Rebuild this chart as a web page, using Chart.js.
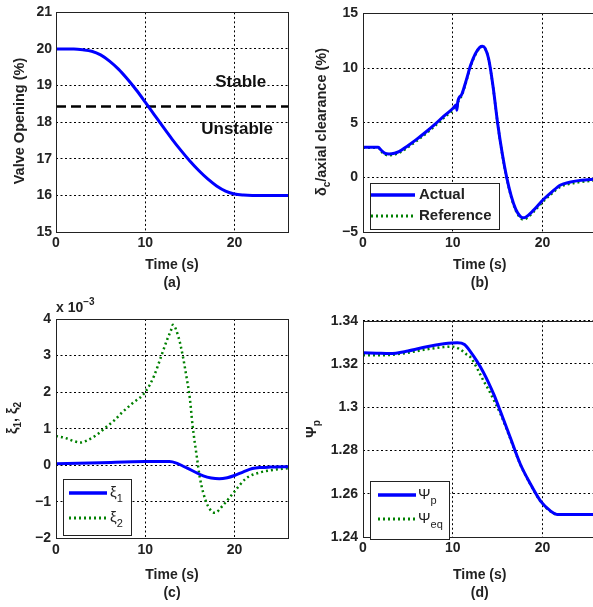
<!DOCTYPE html>
<html>
<head>
<meta charset="utf-8">
<script src="https://cdn.jsdelivr.net/npm/chart.js@4.4.1/dist/chart.umd.min.js"></script>
<style>
  html, body { margin: 0; padding: 0; background: #fff; overflow: hidden; width: 593px; height: 607px; }
  canvas { position: absolute; }
</style>
</head>
<body>
<canvas id="chart-a" width="300" height="292" style="left:0px;top:0px"></canvas>
<canvas id="chart-b" width="300" height="292" style="left:300px;top:0px"></canvas>
<canvas id="chart-c" width="300" height="317" style="left:0px;top:290px"></canvas>
<canvas id="chart-d" width="300" height="317" style="left:300px;top:290px"></canvas>
<script>
// (a) valve opening
const timeA = [0, 1, 2, 3, 4, 5, 6, 7, 8, 9, 10, 11, 12, 13, 14, 15, 16, 17, 18, 19, 20, 21, 22, 23, 24, 25, 26];
const valveOpening = [20, 20, 20, 19.98, 19.94, 19.84, 19.67, 19.45, 19.18, 18.88, 18.55, 18.21, 17.87, 17.54, 17.23, 16.94, 16.68, 16.45, 16.26, 16.12, 16.04, 16.01, 16, 16, 16, 16, 16];
const stabilityLimit = 18.43;
const ticksYA = [15, 16, 17, 18, 19, 20, 21];

// (b) clearance
const timeB = [0, 1.7, 2.0, 2.4, 2.9, 3.5, 4, 5, 6, 7, 8, 9, 10, 10.4, 10.45, 10.55, 11, 11.5, 12, 12.5, 13, 13.3, 13.6, 14, 14.5, 15, 15.5, 16, 16.5, 17, 17.5, 17.8, 18.2, 19, 20, 21, 22, 23, 24, 25, 26];
const clearanceActual = [2.75, 2.75, 2.5, 2.22, 2.14, 2.2, 2.35, 2.9, 3.5, 4.15, 4.85, 5.6, 6.3, 6.65, 6.15, 6.9, 7.6, 8.9, 10.3, 11.3, 11.9, 12.0, 11.8, 10.8, 8.2, 4.9, 2.2, 0.0, -1.7, -2.9, -3.55, -3.7, -3.6, -3.0, -2.1, -1.35, -0.7, -0.45, -0.3, -0.22, -0.15];
const clearanceRef = [2.7, 2.7, 2.4, 2.1, 2.02, 2.08, 2.22, 2.75, 3.35, 4.0, 4.7, 5.45, 6.15, 6.5, 6.4, 6.8, 7.5, 8.8, 10.2, 11.2, 11.85, 11.95, 11.75, 10.75, 8.15, 4.85, 2.15, -0.05, -1.8, -3.0, -3.7, -3.85, -3.75, -3.15, -2.25, -1.5, -0.85, -0.6, -0.45, -0.35, -0.3];
const ticksYB = [-5, 0, 5, 10, 15];

// (c) xi1, xi2 (x 10^-3)
const timeXi1 = [0, 5, 10, 12.7, 13.5, 14.2, 15.3, 16.5, 17.4, 18.3, 19.2, 20, 21, 22, 23, 24, 26];
const xi1 = [0.04, 0.07, 0.1, 0.1, 0.06, -0.02, -0.15, -0.29, -0.35, -0.37, -0.34, -0.28, -0.18, -0.09, -0.06, -0.05, -0.04];
const timeXi2 = [0, 1, 2, 2.7, 3.5, 4.5, 5.5, 6.5, 7.35, 8.5, 10, 11, 11.8, 12.4, 12.9, 13.1, 13.7, 14.2, 14.6, 15.0, 15.3, 15.8, 16.1, 16.5, 17.0, 17.8, 18.7, 20, 21.3, 22.8, 24, 26];
const xi2 = [0.8, 0.75, 0.66, 0.62, 0.68, 0.82, 1.02, 1.22, 1.43, 1.68, 2.0, 2.45, 2.99, 3.4, 3.7, 3.84, 3.53, 3.0, 2.45, 1.83, 1.1, 0.2, -0.31, -0.75, -1.1, -1.3, -1.1, -0.72, -0.36, -0.2, -0.14, -0.08];
const ticksYC = [-2, -1, 0, 1, 2, 3, 4];

// (d) psi
const timePsiP = [0, 1.5, 3, 5, 7.1, 9, 10.5, 11.3, 12, 12.7, 13.4, 14, 14.6, 15.3, 16.4, 17.5, 18.6, 19.8, 20.9, 21.6, 23, 26];
const psiP = [1.3252, 1.3250, 1.3248, 1.3260, 1.3280, 1.3293, 1.3298, 1.3290, 1.3255, 1.3212, 1.3162, 1.3112, 1.3056, 1.2981, 1.2860, 1.2739, 1.2649, 1.2565, 1.2520, 1.2505, 1.2505, 1.2505];
const timePsiEq = [0, 1.5, 3, 5, 7.1, 9, 9.9, 10.8, 11.5, 12, 12.7, 13.4, 14, 14.6, 15.3, 16.4, 17.5, 18.6, 19.8, 20.9, 21.6, 23, 26];
const psiEq = [1.3240, 1.3240, 1.3242, 1.3252, 1.3268, 1.3278, 1.3280, 1.3268, 1.3245, 1.3230, 1.3180, 1.3124, 1.3080, 1.3030, 1.2970, 1.2855, 1.2737, 1.2647, 1.2563, 1.2518, 1.2505, 1.2505, 1.2505];
const ticksYD = [1.24, 1.26, 1.28, 1.3, 1.32, 1.34];

const ticksX = [0, 10, 20];

const FONT = "'Liberation Sans', Arial, Helvetica, sans-serif";
const BLUE = '#0000ff';
const GREEN = '#008000';

function pairs(xs, ys) {
    return xs.map((x, i) => ({ x: x, y: ys[i] }));
}

function solid(xs, ys) {
    return { data: pairs(xs, ys), borderColor: BLUE, borderWidth: 3, fill: false };
}

function dotted(xs, ys) {
    return { data: pairs(xs, ys), borderColor: GREEN, borderWidth: 2.5, borderDash: [2, 3], fill: false };
}

function fmt(v) {
    return String(v).replace('-', '\u2212');
}

// draw text with sub/superscript parts, optionally rotated
function drawRich(ctx, parts, x, y, size, rotate, weight) {
    ctx.save();
    ctx.translate(x, y);
    if (rotate) ctx.rotate(-Math.PI / 2);
    const w8 = weight || 'bold';
    const fonts = parts.map(p => `${w8} ${(p.sub || p.sup) ? Math.round(size * 0.72) : size}px ${FONT}`);
    let total = 0;
    const widths = parts.map((p, i) => {
        ctx.font = fonts[i];
        const m = ctx.measureText(p.t).width;
        total += m;
        return m;
    });
    let cx = rotate ? -total / 2 : 0;
    ctx.textBaseline = 'middle';
    ctx.textAlign = 'left';
    ctx.fillStyle = '#222';
    parts.forEach((p, i) => {
        ctx.font = fonts[i];
        const dy = p.sub ? size * 0.38 : (p.sup ? -size * 0.42 : 0);
        ctx.fillText(p.t, cx, dy);
        cx += widths[i];
    });
    ctx.restore();
}

const decorPlugin = {
    id: 'panelDecor',
    afterDraw(chart, args, opts) {
        const ctx = chart.ctx;
        const a = chart.chartArea;

        // frame
        ctx.save();
        ctx.strokeStyle = '#222';
        ctx.lineWidth = 1;
        ctx.strokeRect(Math.round(a.left) + 0.5, Math.round(a.top) + 0.5, Math.round(a.right - a.left), Math.round(a.bottom - a.top));
        ctx.restore();

        // y title
        if (opts.yTitle) drawRich(ctx, opts.yTitle.parts, opts.yTitle.x, opts.yTitle.y, 14.5, true);

        // free text (annotations in data coords)
        (opts.notes || []).forEach(n => {
            ctx.save();
            ctx.font = `bold 17px ${FONT}`;
            ctx.fillStyle = '#111';
            ctx.textAlign = 'center';
            ctx.textBaseline = 'middle';
            ctx.fillText(n.text, chart.scales.x.getPixelForValue(n.x), chart.scales.y.getPixelForValue(n.y));
            ctx.restore();
        });

        (opts.labels || []).forEach(l => drawRich(ctx, l.parts, l.x, l.y, l.size, false));

        // legend
        const lg = opts.legend;
        if (lg) {
            ctx.save();
            ctx.fillStyle = '#fff';
            ctx.fillRect(lg.box[0], lg.box[1], lg.box[2], lg.box[3]);
            ctx.strokeStyle = '#222';
            ctx.lineWidth = 1;
            ctx.strokeRect(lg.box[0] + 0.5, lg.box[1] + 0.5, lg.box[2], lg.box[3]);
            lg.items.forEach(it => {
                ctx.beginPath();
                ctx.setLineDash(it.dash || []);
                ctx.strokeStyle = it.color;
                ctx.lineWidth = it.width;
                ctx.moveTo(lg.x1, it.y);
                ctx.lineTo(lg.x2, it.y);
                ctx.stroke();
                ctx.setLineDash([]);
                drawRich(ctx, it.parts, lg.tx, it.y, 15, false, it.weight);
            });
            ctx.restore();
        }
    }
};

function makeChart(id, datasets, o) {
    const tickFont = { family: FONT, size: 14, weight: 'bold' };
    return new Chart(document.getElementById(id), {
        type: 'line',
        data: { datasets: datasets },
        options: {
            responsive: false,
            animation: false,
            layout: { padding: o.padding },
            elements: { point: { radius: 0 }, line: { cubicInterpolationMode: 'monotone' } },
            plugins: {
                legend: { display: false },
                tooltip: { enabled: false },
                panelDecor: o.decor
            },
            scales: {
                x: {
                    type: 'linear',
                    min: 0,
                    max: 26,
                    afterBuildTicks: s => { s.ticks = ticksX.map(v => ({ value: v })); },
                    afterFit: s => { s.height = o.xHeight; },
                    grid: { color: '#000', lineWidth: 1, drawTicks: false },
                    border: { display: false, dash: [2, 2.5] },
                    ticks: { font: tickFont, color: '#222', padding: 3, maxRotation: 0, callback: fmt },
                    title: {
                        display: true,
                        text: ['Time (s)', o.tag],
                        font: { family: FONT, size: 14, weight: 'bold', lineHeight: 1.3 },
                        color: '#222',
                        padding: { top: 0, bottom: o.titlePad }
                    }
                },
                y: {
                    type: 'linear',
                    min: o.yTicks[0],
                    max: o.yTicks[o.yTicks.length - 1],
                    afterBuildTicks: s => { s.ticks = o.yTicks.map(v => ({ value: v })); },
                    afterFit: s => { s.width = o.yWidth; },
                    grid: { color: '#000', lineWidth: 1, drawTicks: false },
                    border: { display: false, dash: [2, 2.5] },
                    ticks: { font: tickFont, color: '#222', padding: o.yPad, callback: fmt }
                }
            }
        },
        plugins: [decorPlugin]
    });
}

// (a)
makeChart('chart-a', [
    solid(timeA, valveOpening),
    { data: [{ x: 0, y: stabilityLimit }, { x: 26, y: stabilityLimit }], borderColor: '#000', borderWidth: 2.5, borderDash: [10, 5], fill: false }
], {
    padding: { left: 0, top: 10, right: 12, bottom: 0 },
    xHeight: 60, yWidth: 56, yPad: 4, titlePad: 0, tag: '(a)', yTicks: ticksYA,
    decor: {
        yTitle: { x: 20, y: 121, parts: [{ t: 'Valve Opening (%)' }] },
        notes: [{ text: 'Stable', x: 20.7, y: 19.1 }, { text: 'Unstable', x: 20.3, y: 17.8 }]
    }
});

// (b)
makeChart('chart-b', [
    solid(timeB, clearanceActual),
    dotted(timeB, clearanceRef)
], {
    padding: { left: 0, top: 10, right: 3.5, bottom: 0 },
    xHeight: 60, yWidth: 63, yPad: 5, titlePad: 0, tag: '(b)', yTicks: ticksYB,
    decor: {
        yTitle: { x: 22, y: 122, parts: [{ t: '\u03b4' }, { t: 'c', sub: true }, { t: '/axial clearance (%)' }] },
        legend: {
            box: [70, 183, 129, 46], x1: 71, x2: 115, tx: 119,
            items: [
                { y: 195, color: BLUE, width: 3.5, parts: [{ t: 'Actual' }] },
                { y: 216, color: GREEN, width: 3, dash: [2, 3], parts: [{ t: 'Reference' }] }
            ]
        }
    }
});

// (c)
makeChart('chart-c', [
    solid(timeXi1, xi1),
    dotted(timeXi2, xi2)
], {
    padding: { left: 0, top: 29, right: 12, bottom: 4.6 },
    xHeight: 64, yWidth: 56, yPad: 5, titlePad: 0, tag: '(c)', yTicks: ticksYC,
    decor: {
        yTitle: { x: 13, y: 128, parts: [{ t: '\u03be' }, { t: '1', sub: true }, { t: ', \u03be' }, { t: '2', sub: true }] },
        labels: [{ x: 56, y: 18, size: 14, parts: [{ t: 'x 10' }, { t: '\u22123', sup: true }] }],
        legend: {
            box: [63, 189, 68, 56], x1: 69, x2: 107, tx: 110,
            items: [
                { y: 203, color: BLUE, width: 3.5, weight: 'normal', parts: [{ t: '\u03be' }, { t: '1', sub: true }] },
                { y: 228, color: GREEN, width: 3, dash: [2, 3], weight: 'normal', parts: [{ t: '\u03be' }, { t: '2', sub: true }] }
            ]
        }
    }
});

// (d)
makeChart('chart-d', [
    solid(timePsiP, psiP),
    dotted(timePsiEq, psiEq)
], {
    padding: { left: 0, top: 30.7, right: 3.5, bottom: 4.6 },
    xHeight: 65.3, yWidth: 63, yPad: 5, titlePad: 0, tag: '(d)', yTicks: ticksYD,
    decor: {
        yTitle: { x: 12, y: 139, parts: [{ t: '\u03a8' }, { t: 'p', sub: true }] },
        legend: {
            box: [70, 191, 79, 58], x1: 78, x2: 116, tx: 118,
            items: [
                { y: 205, color: BLUE, width: 3.5, weight: 'normal', parts: [{ t: '\u03a8' }, { t: 'p', sub: true }] },
                { y: 229, color: GREEN, width: 3, dash: [2, 3], weight: 'normal', parts: [{ t: '\u03a8' }, { t: 'eq', sub: true }] }
            ]
        }
    }
});
</script>
</body>
</html>
